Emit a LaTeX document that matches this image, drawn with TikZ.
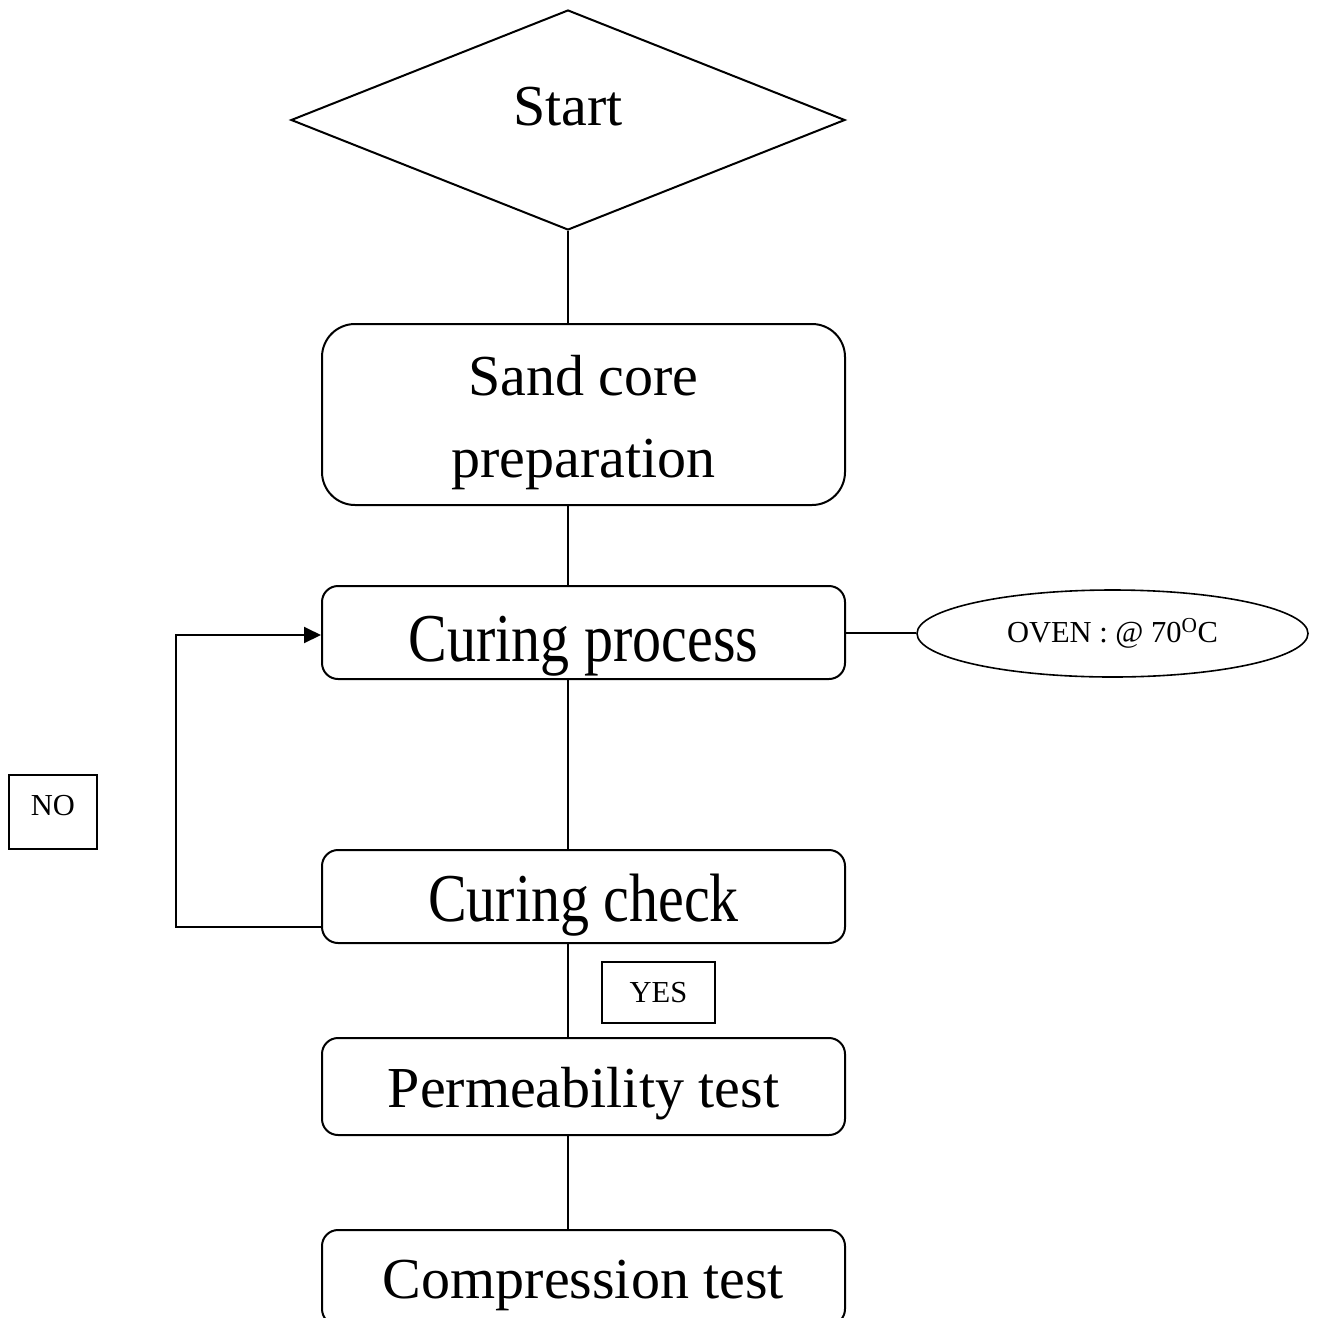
\documentclass[tikz,border=0pt]{standalone}
\usepackage{fontspec}
\setmainfont{Liberation Serif}
\usepackage{graphicx}
\usetikzlibrary{shapes.geometric,arrows.meta}
\begin{document}
\begin{tikzpicture}[x=1pt,y=-1pt,line width=2pt,
  big/.style={font=\fontsize{58}{82}\selectfont},
  small/.style={font=\fontsize{30.5}{36}\selectfont},
  procbox/.style={draw,rectangle,rounded corners=16pt,minimum width=523pt,minimum height=93pt,inner sep=0pt,big,text depth=0pt},
  tagbox/.style={draw,rectangle,inner sep=0pt,small,text depth=0pt,line width=1.6pt}]
\useasboundingbox (0,0) rectangle (1321,1317);
\clip (0,0) rectangle (1321,1317);

\node[draw,diamond,minimum width=554pt,minimum height=220pt,inner sep=0pt,big,text height=10pt,text depth=0pt] (start) at (568,120) {Start};
\node[procbox,rounded corners=33pt,minimum height=181pt,text height=20pt,text depth=59pt] (sand) at (583.5,414.5) {\begin{tabular}[t]{@{}c@{}}Sand core\\preparation\end{tabular}};
\node[procbox,text height=58pt] (cp) at (583.5,632.5) {\scalebox{1}[1.18]{Curing process}};
\node[draw,ellipse,minimum width=391pt,minimum height=87pt,inner sep=0pt,small,text height=17pt,text depth=0pt,line width=1.6pt] (oven) at (1112.5,633.5) {OVEN : @ 70\textsuperscript{O}C};
\node[procbox,text height=50pt] (cc) at (583.5,896.5) {\scalebox{1}[1.18]{Curing check}};
\node[procbox,minimum height=97pt,text height=41pt] (perm) at (583.5,1086.5) {Permeability test};
\node[procbox,minimum height=95pt,text height=41pt] (comp) at (583.5,1277.5) {Compression test};
\node[tagbox,minimum width=88pt,minimum height=74pt,text height=6pt] (no) at (53,812) {NO};
\node[tagbox,minimum width=113pt,minimum height=61pt,text height=19pt] (yes) at (658.5,992.5) {YES};

\coordinate (ax) at (568,0);
\draw (start.south) -- (ax |- sand.north);
\draw (ax |- sand.south) -- (ax |- cp.north);
\draw (ax |- cp.south) -- (ax |- cc.north);
\draw (ax |- cc.south) -- (ax |- perm.north);
\draw (ax |- perm.south) -- (ax |- comp.north);
\draw (cp.east) -- (cp.east -| oven.west);
\draw[-{Triangle[length=17pt,width=16pt]}] ([yshift=-30.5pt]cc.west) -- ++(-145,0) |- ([yshift=-2.5pt]cp.west);
\end{tikzpicture}
\end{document}
